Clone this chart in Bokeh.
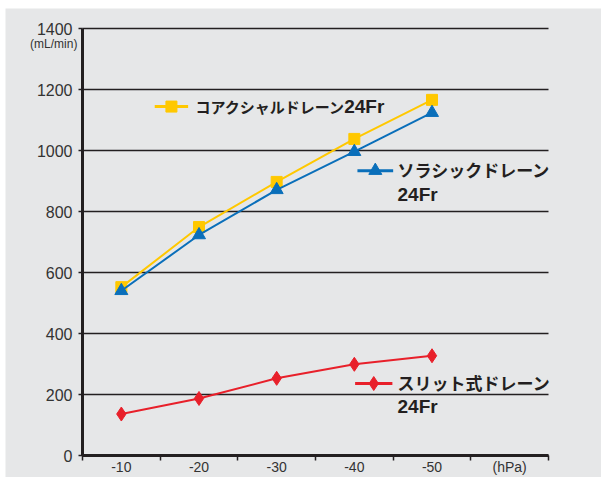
from bokeh.plotting import figure
from bokeh.models import Range1d, FixedTicker, Label, LinearAxis
from bokeh.core.properties import value
from bokeh.embed import file_html
from bokeh.resources import INLINE

# ---- data ----
categories = ["-10", "-20", "-30", "-40", "-50"]
unit_label = "(hPa)"
coaxial = [552, 749, 897, 1038, 1166]
thoracic = [540, 723, 871, 996, 1124]
slit = [136, 187, 253, 299, 327]
y_ticks = [0, 200, 400, 600, 800, 1000, 1200, 1400]
y_unit = "(mL/min)"
name_jp = ["コアクシャルドレーン", "ソラシックドレーン", "スリット式ドレーン"]
name_size = "24Fr"

# ---- style / layout ----
YELLOW = "#ffc800"
BLUE = "#0a6fba"
RED = "#e8202a"
DARK = "#231f20"
BG = "#e6e7e8"
JP = "Noto Sans CJK JP"
NUM = "Liberation Sans"

n_slots = len(categories) + 1
xs = [i + 0.5 for i in range(len(categories))]
px_per_x = 466 / n_slots          # axis from 82 px to 548 px
px_per_y = 427 / 1400             # 0 at 455 px, 1400 at 28 px
x_start = -77 / px_per_x
x_end = n_slots + 53 / px_per_x
y_start = -22 / px_per_y
y_end = 1400 + 20 / px_per_y

p = figure(width=596, height=469, output_backend="svg", toolbar_location=None,
           x_range=Range1d(x_start, x_end), y_range=Range1d(y_start, y_end),
           x_axis_location=None, y_axis_location=None)
p.margin = (8, 0, 0, 5)
p.min_border = 0
p.background_fill_color = BG
p.border_fill_color = BG
p.outline_line_color = None
p.grid.visible = False

# horizontal grid lines across the plotting area
p.segment(x0=[0] * len(y_ticks), x1=[n_slots] * len(y_ticks), y0=y_ticks, y1=y_ticks,
          line_color=DARK, line_width=1.5)

# x axis fixed at y = 0
ticks_x = xs + [len(categories) + 0.5]
xax = LinearAxis(ticker=FixedTicker(ticks=ticks_x, minor_ticks=list(range(n_slots + 1))),
                 fixed_location=0, bounds=(0, n_slots))
xax.major_label_overrides = {t: lab for t, lab in zip(ticks_x, categories + [unit_label])}
xax.major_tick_out = 0
xax.major_tick_in = 0
xax.minor_tick_out = 5
xax.minor_tick_in = 0
xax.minor_tick_line_color = DARK
xax.minor_tick_line_width = 1.5
xax.major_label_standoff = -2
xax.major_label_text_font_size = "14px"
p.add_layout(xax, "below")

# y axis fixed at x = 0
yax = LinearAxis(ticker=FixedTicker(ticks=y_ticks), fixed_location=0, bounds=(0, 1400))
yax.major_tick_out = 4
yax.major_tick_in = 0
yax.minor_tick_out = 0
yax.major_tick_line_color = DARK
yax.major_tick_line_width = 1.5
yax.major_label_standoff = 6
yax.major_label_text_font_size = "16px"
p.add_layout(yax, "left")

for ax in (xax, yax):
    ax.axis_line_color = DARK
    ax.axis_line_width = 3
    ax.major_label_text_font = NUM
    ax.major_label_text_color = "#333333"

# series
p.line(xs, coaxial, color=YELLOW, line_width=2)
p.scatter(xs, coaxial, marker="square", size=11, color=YELLOW)
p.line(xs, thoracic, color=BLUE, line_width=2)
p.scatter(xs, thoracic, marker="triangle", size=13, color=BLUE)
p.line(xs, slit, color=RED, line_width=2)
p.scatter(xs, slit, marker="diamond", size=14, color=RED)

# unit label under 1400
p.add_layout(Label(x=-0.37, y=1349, text=y_unit,
                   text_font=NUM, text_font_size="12px",
                   text_color="#333333", text_align="center", text_baseline="middle"))

# legends (manual, positioned in data space)
legend_keys = [
    # (x0, x1, y)
    (0.93, 1.36, 1144),
    (3.54, 4.00, 934),
    (3.51, 3.99, 236),
]
legend_texts = [
    # (jp x, jp y, jp size, fr x, fr y)
    (1.455, 1143, "15px", 3.37, 1143),
    (4.056, 937, "17px", 4.056, 855),
    (4.056, 239, "17px", 4.056, 160),
]
styles = [(YELLOW, "square", 11), (BLUE, "triangle", 13), (RED, "diamond", 14)]
for (x0, x1, ly), (jx, jy, js, fx, fy), (col, mk, sz), jp in zip(legend_keys, legend_texts, styles, name_jp):
    p.line([x0, x1], [ly, ly], color=col, line_width=3)
    p.scatter([(x0 + x1) / 2], [ly], marker=mk, size=sz, color=col)
    p.text(x=[jx], y=[jy], text=[jp], text_font=value(JP), text_font_size=js,
           text_font_style="bold", text_color=DARK, text_baseline="middle")
    p.text(x=[fx], y=[fy], text=[name_size], text_font=value(NUM), text_font_size="19px",
           text_font_style="bold", text_color=DARK, text_baseline="middle")

open("out.html", "w").write(file_html(p, INLINE))
